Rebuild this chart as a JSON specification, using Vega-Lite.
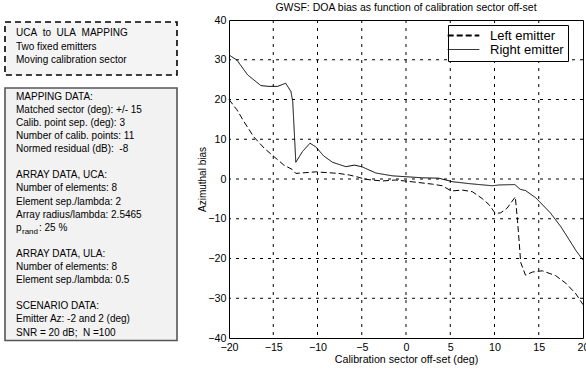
{
  "$schema": "https://vega.github.io/schema/vega-lite/v6.json",
  "padding": {"left": 0, "top": 2, "right": 0, "bottom": 0},
  "background": "white",
  "spacing": 19,
  "config": {
    "font": "Liberation Sans",
    "view": {"stroke": null}
  },
  "hconcat": [
    {
      "width": 178,
      "height": 322,
      "view": {"stroke": null},
      "data": {"values": [
        {"kind": "box", "box": "header", "top": -5.70, "bottom": -1.66},
        {"kind": "box", "box": "data", "top": -0.66, "bottom": 18.61},
        {"kind": "text", "line": -4.83, "text": "UCA\u00a0 to\u00a0 ULA\u00a0 MAPPING"},
        {"kind": "text", "line": -3.83, "text": "Two fixed emitters"},
        {"kind": "text", "line": -2.83, "text": "Moving calibration sector"},
        {"kind": "text", "line": 0, "text": "MAPPING DATA:"},
        {"kind": "text", "line": 1, "text": "Matched sector (deg): +/- 15"},
        {"kind": "text", "line": 2, "text": "Calib. point sep. (deg): 3"},
        {"kind": "text", "line": 3, "text": "Number of calib. points: 11"},
        {"kind": "text", "line": 4, "text": "Normed residual (dB):\u00a0 -8"},
        {"kind": "text", "line": 6, "text": "ARRAY DATA, UCA:"},
        {"kind": "text", "line": 7, "text": "Number of elements: 8"},
        {"kind": "text", "line": 8, "text": "Element sep./lambda: 2"},
        {"kind": "text", "line": 9, "text": "Array radius/lambda: 2.5465"},
        {"kind": "text", "line": 10, "text": "p"},
        {"kind": "sub", "line": 10, "text": "rand"},
        {"kind": "after", "line": 10, "text": ": 25 %"},
        {"kind": "text", "line": 12, "text": "ARRAY DATA, ULA:"},
        {"kind": "text", "line": 13, "text": "Number of elements: 8"},
        {"kind": "text", "line": 14, "text": "Element sep./lambda: 0.5"},
        {"kind": "text", "line": 16, "text": "SCENARIO DATA:"},
        {"kind": "text", "line": 17, "text": "Emitter Az: -2 and 2 (deg)"},
        {"kind": "text", "line": 18, "text": "SNR = 20 dB;\u00a0 N =100"}
      ]},
      "layer": [
        {
          "transform": [{"filter": "datum.kind === 'box' && datum.box === 'header'"}],
          "mark": {"type": "rect", "fill": "#f4f4f4", "stroke": "black", "strokeWidth": 1.6, "strokeDash": [6, 4]},
          "encoding": {
            "x": {"datum": 5, "type": "quantitative", "scale": {"domain": [0, 178], "nice": false, "zero": false}, "axis": null},
            "x2": {"datum": 177},
            "y": {"field": "top", "type": "quantitative", "scale": {"domain": [-5.855, 18.725], "reverse": true, "nice": false, "zero": false}, "axis": null},
            "y2": {"field": "bottom"}
          }
        },
        {
          "transform": [{"filter": "datum.kind === 'box' && datum.box === 'data'"}],
          "mark": {"type": "rect", "fill": "#f2f2f2", "stroke": "#555555", "strokeWidth": 1.6},
          "encoding": {
            "x": {"datum": 5, "type": "quantitative"},
            "x2": {"datum": 177},
            "y": {"field": "top", "type": "quantitative"},
            "y2": {"field": "bottom"}
          }
        },
        {
          "transform": [{"filter": "datum.kind === 'text'"}],
          "mark": {"type": "text", "align": "left", "baseline": "middle", "fontSize": 10, "color": "black"},
          "encoding": {
            "x": {"datum": 16, "type": "quantitative"},
            "y": {"field": "line", "type": "quantitative"},
            "text": {"field": "text"}
          }
        },
        {
          "transform": [{"filter": "datum.kind === 'sub'"}],
          "mark": {"type": "text", "align": "left", "baseline": "middle", "fontSize": 8, "dy": 4, "color": "black"},
          "encoding": {
            "x": {"datum": 22, "type": "quantitative"},
            "y": {"field": "line", "type": "quantitative"},
            "text": {"field": "text"}
          }
        },
        {
          "transform": [{"filter": "datum.kind === 'after'"}],
          "mark": {"type": "text", "align": "left", "baseline": "middle", "fontSize": 10, "color": "black"},
          "encoding": {
            "x": {"datum": 39, "type": "quantitative"},
            "y": {"field": "line", "type": "quantitative"},
            "text": {"field": "text"}
          }
        }
      ]
    },
    {
      "width": 354,
      "height": 318,
      "view": {"stroke": "black", "strokeWidth": 1},
      "title": {"text": "GWSF: DOA bias as function of calibration sector off-set", "fontSize": 10.5, "fontWeight": "normal", "offset": 1, "anchor": "middle", "color": "black"},
      "layer": [
        {
          "data": {"values": [{"x": -15}, {"x": -10}, {"x": -5}, {"x": 0}, {"x": 5}, {"x": 10}, {"x": 15}]},
          "mark": {"type": "rule", "color": "black", "strokeWidth": 1, "strokeDash": [3, 5]},
          "encoding": {
            "x": {
              "field": "x", "type": "quantitative",
              "scale": {"domain": [-20, 20], "nice": false, "zero": false},
              "axis": {
                "values": [-20, -15, -10, -5, 0, 5, 10, 15, 20],
                "title": "Calibration sector off-set (deg)",
                "grid": false, "domain": false, "ticks": false, "labelOverlap": false,
                "labelFontSize": 10.7, "labelPadding": 4, "labelColor": "black", "labelFlush": false,
                "titleFontSize": 10.7, "titleFontWeight": "normal", "titlePadding": 3, "titleColor": "black"
              }
            }
          }
        },
        {
          "data": {"values": [{"y": -30}, {"y": -20}, {"y": -10}, {"y": 0}, {"y": 10}, {"y": 20}, {"y": 30}]},
          "mark": {"type": "rule", "color": "black", "strokeWidth": 1, "strokeDash": [3, 5]},
          "encoding": {
            "y": {
              "field": "y", "type": "quantitative",
              "scale": {"domain": [-40, 40], "nice": false, "zero": false},
              "axis": {
                "values": [-40, -30, -20, -10, 0, 10, 20, 30, 40],
                "title": "Azimuthal bias",
                "grid": false, "domain": false, "ticks": false, "labelOverlap": false,
                "labelFontSize": 10.7, "labelPadding": 3, "labelColor": "black", "labelFlush": false,
                "titleFontSize": 10, "titleFontWeight": "normal", "titlePadding": 0, "titleColor": "black"
              }
            }
          }
        },
        {
          "data": {"values": [
            {"series": "Right emitter", "x": -20, "y": 31.2},
            {"series": "Right emitter", "x": -19.1, "y": 29.9},
            {"series": "Right emitter", "x": -17.9, "y": 26.2},
            {"series": "Right emitter", "x": -16.4, "y": 23.5},
            {"series": "Right emitter", "x": -15.5, "y": 23.3},
            {"series": "Right emitter", "x": -14.5, "y": 23.3},
            {"series": "Right emitter", "x": -13.6, "y": 24.1},
            {"series": "Right emitter", "x": -13.0, "y": 22.0},
            {"series": "Right emitter", "x": -12.8, "y": 19.5},
            {"series": "Right emitter", "x": -12.45, "y": 4.2},
            {"series": "Right emitter", "x": -11.7, "y": 6.9},
            {"series": "Right emitter", "x": -10.85, "y": 9.0},
            {"series": "Right emitter", "x": -10.2, "y": 8.1},
            {"series": "Right emitter", "x": -9.3, "y": 5.8},
            {"series": "Right emitter", "x": -8.3, "y": 4.2},
            {"series": "Right emitter", "x": -6.8, "y": 3.1},
            {"series": "Right emitter", "x": -5.8, "y": 3.5},
            {"series": "Right emitter", "x": -4.9, "y": 3.0},
            {"series": "Right emitter", "x": -3.4, "y": 1.5},
            {"series": "Right emitter", "x": -1.55, "y": 0.8},
            {"series": "Right emitter", "x": 1.85, "y": 0.3},
            {"series": "Right emitter", "x": 3.7, "y": 0.2},
            {"series": "Right emitter", "x": 5.3, "y": -0.7},
            {"series": "Right emitter", "x": 7.3, "y": -1.2},
            {"series": "Right emitter", "x": 9.75, "y": -1.7},
            {"series": "Right emitter", "x": 10.5, "y": -1.5},
            {"series": "Right emitter", "x": 12.3, "y": -1.4},
            {"series": "Right emitter", "x": 12.9, "y": -2.6},
            {"series": "Right emitter", "x": 13.5, "y": -2.9},
            {"series": "Right emitter", "x": 14.65, "y": -4.7},
            {"series": "Right emitter", "x": 16.3, "y": -8.5},
            {"series": "Right emitter", "x": 17.5, "y": -12.0},
            {"series": "Right emitter", "x": 18.3, "y": -14.8},
            {"series": "Right emitter", "x": 19.2, "y": -18.0},
            {"series": "Right emitter", "x": 20, "y": -20.4},
            {"series": "Left emitter", "x": -20, "y": 20.0},
            {"series": "Left emitter", "x": -19.1, "y": 17.4},
            {"series": "Left emitter", "x": -18.3, "y": 14.4},
            {"series": "Left emitter", "x": -17.2, "y": 10.6},
            {"series": "Left emitter", "x": -16.0, "y": 7.7},
            {"series": "Left emitter", "x": -14.9, "y": 5.6},
            {"series": "Left emitter", "x": -13.8, "y": 3.5},
            {"series": "Left emitter", "x": -12.85, "y": 2.4},
            {"series": "Left emitter", "x": -12.45, "y": 1.4},
            {"series": "Left emitter", "x": -11.3, "y": 1.6},
            {"series": "Left emitter", "x": -10.2, "y": 1.8},
            {"series": "Left emitter", "x": -8.9, "y": 1.6},
            {"series": "Left emitter", "x": -7.6, "y": 1.4},
            {"series": "Left emitter", "x": -6.4, "y": 1.0},
            {"series": "Left emitter", "x": -5.3, "y": 0.4},
            {"series": "Left emitter", "x": -4.5, "y": -0.1},
            {"series": "Left emitter", "x": -2.7, "y": -0.5},
            {"series": "Left emitter", "x": -1.2, "y": -0.25},
            {"series": "Left emitter", "x": 0.7, "y": -0.7},
            {"series": "Left emitter", "x": 3.0, "y": -1.3},
            {"series": "Left emitter", "x": 4.1, "y": -1.7},
            {"series": "Left emitter", "x": 5.1, "y": -3.0},
            {"series": "Left emitter", "x": 6.4, "y": -2.8},
            {"series": "Left emitter", "x": 7.5, "y": -3.2},
            {"series": "Left emitter", "x": 8.6, "y": -4.9},
            {"series": "Left emitter", "x": 9.4, "y": -6.5},
            {"series": "Left emitter", "x": 10.1, "y": -8.7},
            {"series": "Left emitter", "x": 10.7, "y": -8.5},
            {"series": "Left emitter", "x": 11.4, "y": -7.4},
            {"series": "Left emitter", "x": 12.35, "y": -4.5},
            {"series": "Left emitter", "x": 12.6, "y": -10.5},
            {"series": "Left emitter", "x": 12.8, "y": -16.2},
            {"series": "Left emitter", "x": 12.96, "y": -21.0},
            {"series": "Left emitter", "x": 13.5, "y": -24.2},
            {"series": "Left emitter", "x": 14.3, "y": -23.4},
            {"series": "Left emitter", "x": 15.4, "y": -23.1},
            {"series": "Left emitter", "x": 16.9, "y": -24.3},
            {"series": "Left emitter", "x": 18.05, "y": -26.2},
            {"series": "Left emitter", "x": 19.2, "y": -28.9},
            {"series": "Left emitter", "x": 20, "y": -31.6}
          ]},
          "mark": {"type": "line", "color": "black", "strokeWidth": 1},
          "encoding": {
            "x": {
              "field": "x", "type": "quantitative",
              "scale": {"domain": [-20, 20], "nice": false, "zero": false},
              "axis": {
                "values": [-20, -15, -10, -5, 0, 5, 10, 15, 20],
                "title": "Calibration sector off-set (deg)",
                "grid": false, "domain": false, "ticks": false, "labelOverlap": false,
                "labelFontSize": 10.7, "labelPadding": 4, "labelColor": "black", "labelFlush": false,
                "titleFontSize": 10.7, "titleFontWeight": "normal", "titlePadding": 3, "titleColor": "black"
              }
            },
            "y": {
              "field": "y", "type": "quantitative",
              "scale": {"domain": [-40, 40], "nice": false, "zero": false},
              "axis": {
                "values": [-40, -30, -20, -10, 0, 10, 20, 30, 40],
                "title": "Azimuthal bias",
                "grid": false, "domain": false, "ticks": false, "labelOverlap": false,
                "labelFontSize": 10.7, "labelPadding": 3, "labelColor": "black", "labelFlush": false,
                "titleFontSize": 10, "titleFontWeight": "normal", "titlePadding": 0, "titleColor": "black"
              }
            },
            "strokeDash": {
              "field": "series", "type": "nominal",
              "scale": {"domain": ["Left emitter", "Right emitter"], "range": [[6, 3], [1, 0]]},
              "legend": {
                "orient": "none", "legendX": 448, "legendY": 5,
                "title": null,
                "strokeColor": "black", "fillColor": "white", "padding": 4,
                "symbolType": "stroke", "symbolSize": 1000, "symbolStrokeWidth": 1, "symbolStrokeColor": "black",
                "symbolOffset": 5,
                "labelFontSize": 13, "labelOffset": 20, "labelColor": "black",
                "rowPadding": 0,
                "encode": {
                  "symbols": {"update": {"strokeWidth": {"signal": "datum.value === 'Left emitter' ? 2 : 1"}}}
                }
              }
            }
          }
        }
      ]
    }
  ]
}
